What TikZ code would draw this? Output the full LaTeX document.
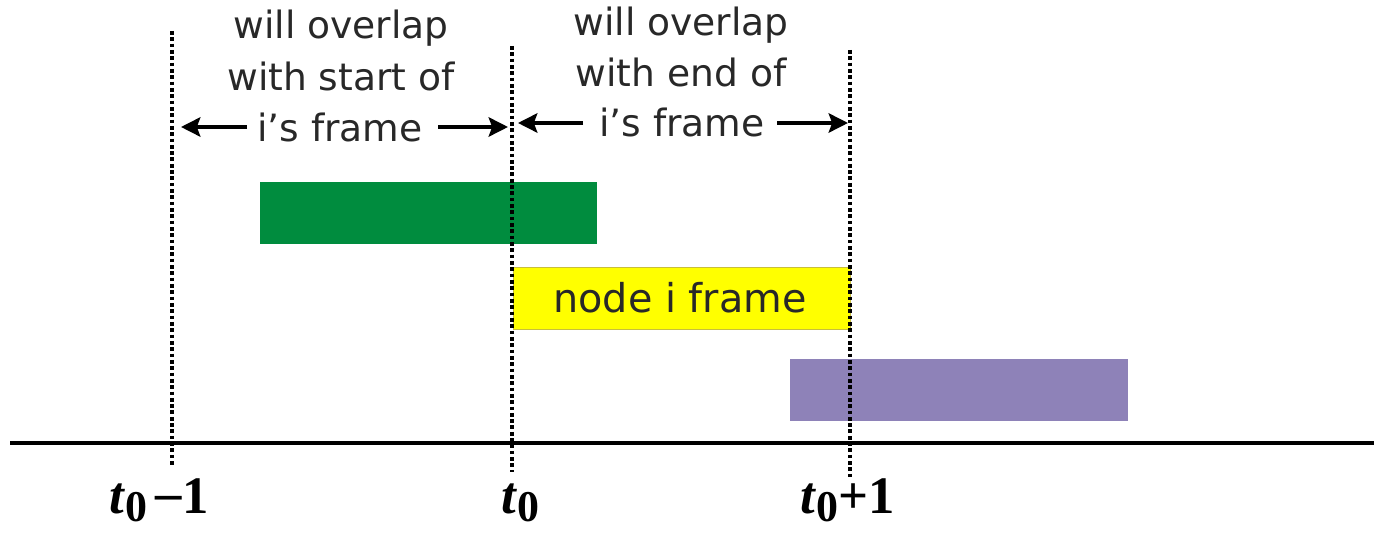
\documentclass[tikz,border=0pt]{standalone}
\usepackage{fontspec}
\setmainfont{Liberation Serif}
\newfontfamily\lblfont{DejaVu Sans}
\usetikzlibrary{arrows.meta}
\definecolor{gbar}{RGB}{0,140,62}
\definecolor{ybar}{RGB}{255,255,0}
\definecolor{pbar}{RGB}{142,130,184}
\definecolor{txt}{RGB}{40,40,40}
\newcommand{\tz}{\textbf{\textit{t}}\raisebox{-0.15em}{\fontsize{25}{28}\selectfont\textbf{0}}}
\begin{document}
\begin{tikzpicture}[x=0.02cm,y=-0.02cm,
  vline/.style={line width=2.1pt, dash pattern=on 2.1pt off 1.5pt, black},
  bar/.style={draw=none, minimum height=1.24cm, inner sep=0pt, anchor=north west},
  toptext/.style={font=\lblfont\fontsize{21.4}{26}\selectfont, text=txt, inner sep=0pt, anchor=base},
  span/.style={line width=2pt, -{Stealth[length=11pt,width=11pt,inset=2pt]}},
  tick/.style={font=\fontsize{30}{34}\selectfont\bfseries, inner sep=0pt}]
\useasboundingbox (0,0) rectangle (1374,533);
% bars
\node[bar, fill=gbar, minimum width=6.74cm] (green) at (260,182) {};
\node[bar, fill=ybar, draw={rgb,255:red,200;green,190;blue,60}, line width=0.4pt, minimum width=6.74cm] (yellow) at (513,267) {};
\node[font=\lblfont\fontsize{22.6}{28}\selectfont, text=txt, inner sep=0pt, anchor=base] (ylab) at (680,313) {node i frame};
\node[bar, fill=pbar, minimum width=6.76cm] (purple) at (790,359) {};
% axis
\coordinate (axl) at (10,443);
\coordinate (axr) at (1374,443);
\draw[line width=2.3pt] (axl) -- (axr);
% dotted lines
\coordinate (a1) at (172,31); \coordinate (a2) at (172,467);
\coordinate (b1) at (512,46); \coordinate (b2) at (512,472);
\coordinate (c1) at (850,50); \coordinate (c2) at (850,477);
\draw[vline] (a1) -- (a2);
\draw[vline] (b1) -- (b2);
\draw[vline] (c1) -- (c2);
% top texts
\node[toptext] (t1a) at (341,39) {will overlap};
\node[toptext] (t1b) at (341,91) {with start of};
\node[toptext] (f1) at (340,142) {i’s frame};
\node[toptext] (t2a) at (681,36) {will overlap};
\node[toptext] (t2b) at (681,87) {with end of};
\node[toptext] (f2) at (682,137) {i’s frame};
\coordinate (la) at (181,127); \coordinate (la0) at (247,127);
\coordinate (lb) at (508,127); \coordinate (lb0) at (438,127);
\coordinate (ra) at (518,123); \coordinate (ra0) at (583,123);
\coordinate (rb) at (848,123); \coordinate (rb0) at (777,123);
\draw[span] (la0) -- (la);
\draw[span] (lb0) -- (lb);
\draw[span] (ra0) -- (ra);
\draw[span] (rb0) -- (rb);
% tick labels
\node[tick, anchor=base] (l1) at (159,514) {\tz\,\raisebox{2pt}{–}1};
\node[tick, anchor=base] (l2) at (520,514) {\tz};
\node[tick, anchor=base] (l3) at (848,514) {\tz+1};
\end{tikzpicture}
\end{document}
